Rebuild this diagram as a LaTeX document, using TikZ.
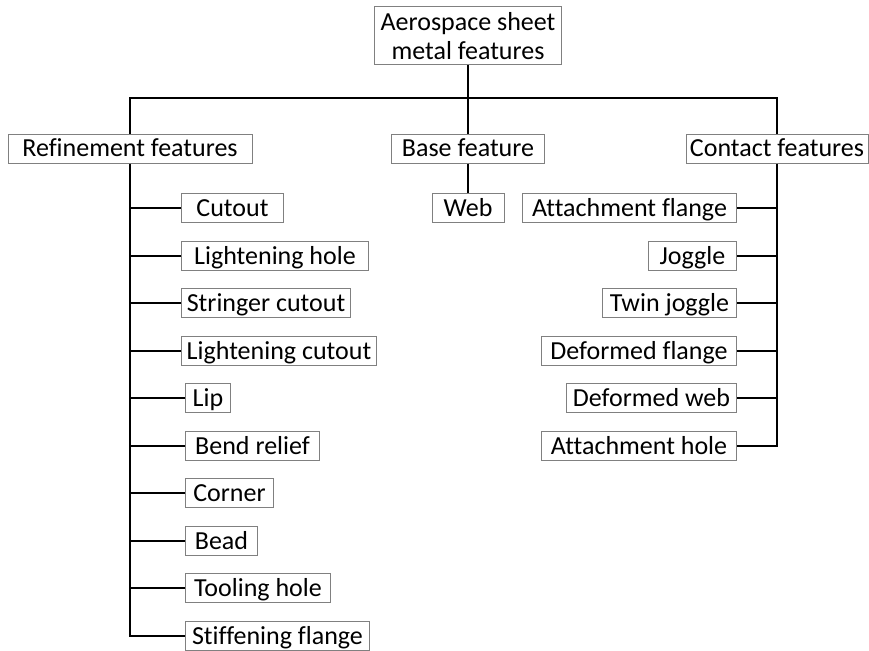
\documentclass[tikz,border=0pt]{standalone}
\usepackage{fontspec}
\setmainfont{Carlito}[Ligatures=NoCommon]
\begin{document}
\begin{tikzpicture}[x=1pt,y=-1pt,
  box/.style={draw=black!50, line width=1pt, inner sep=0pt, minimum height=29pt,
    text height=18pt, text depth=2pt, font=\fontsize{26}{28.5}\selectfont, align=center},
  conn/.style={line width=2pt, black}]
\useasboundingbox (0,0) rectangle (869,650);
\node[box, text height=, text depth=, minimum width=187pt, minimum height=58pt] (root) at (468,36) {Aerospace sheet\\metal features};
\node[box, minimum width=244pt] (ref) at (130,148.5) {Refinement features};
\node[box, minimum width=153pt] (base) at (468,148.5) {Base feature};
\node[box, minimum width=182pt] (contact) at (777,148.5) {Contact features};
\node[box, minimum width=72pt] (web) at (468,208) {Web};
\coordinate (bus) at (468,98);
% left column
\foreach \n/\x/\w/\t/\y in {
  l1/181/102/Cutout/208, l2/181/187/Lightening hole/256, l3/181/169/Stringer cutout/303,
  l4/181/195/Lightening cutout/351, l5/185/45/Lip/398, l6/185/134/Bend relief/446,
  l7/185/88/Corner/493, l8/185/72/Bead/541, l9/185/145/Tooling hole/588, l10/185/184/Stiffening flange/636}
  \node[box, anchor=west, minimum width=\w pt] (\n) at (\x,\y) {\t};
% right column
\foreach \n/\w/\t/\y in {
  r1/214/Attachment flange/208, r2/88/Joggle/256, r3/134/Twin joggle/303,
  r4/195/Deformed flange/351, r5/170/Deformed web/398, r6/195/Attachment hole/446}
  \node[box, anchor=east, minimum width=\w pt] (\n) at (737,\y) {\t};
% connectors
\draw[conn] (root.south) -- (base.north);
\draw[conn] (ref.north) |- (bus) -| (contact.north);
\draw[conn] (base.south) -- (web.north);
\draw[conn] (ref.south) |- (l10.west);
\foreach \n in {l1,l2,l3,l4,l5,l6,l7,l8,l9}
  \draw[conn] (\n.west) -- (\n.west -| ref.south);
\draw[conn] (contact.south) |- (r6.east);
\foreach \n in {r1,r2,r3,r4,r5}
  \draw[conn] (\n.east) -- (\n.east -| contact.south);
\end{tikzpicture}
\end{document}
